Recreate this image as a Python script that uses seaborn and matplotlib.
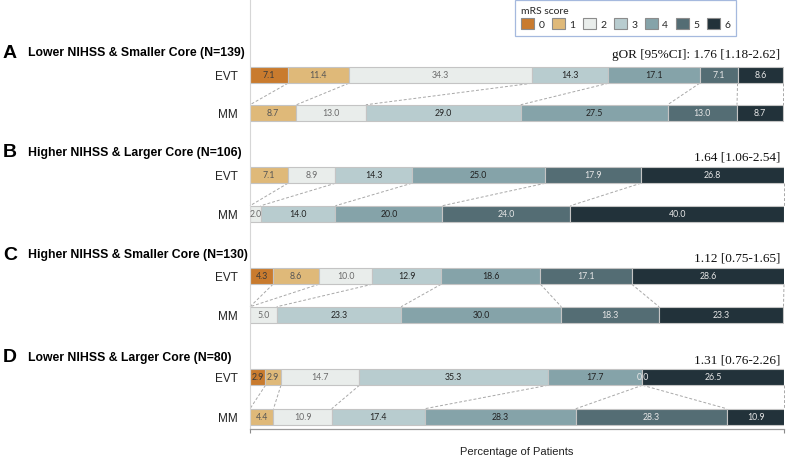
import matplotlib
matplotlib.use("Agg")
import matplotlib.pyplot as plt
import seaborn as sns
from matplotlib.patches import Patch
from matplotlib.transforms import blended_transform_factory

# ---------------- data ----------------
scores = ["0", "1", "2", "3", "4", "5", "6"]
groups = ["EVT", "MM"]
panel_letters = ["A", "B", "C", "D"]
panel_titles = [
    "Lower NIHSS & Smaller Core (N=139)",
    "Higher NIHSS & Larger Core (N=106)",
    "Higher NIHSS & Smaller Core (N=130)",
    "Lower NIHSS & Larger Core (N=80)",
]
gor_labels = [
    "gOR [95%CI]: 1.76 [1.18-2.62]",
    "1.64 [1.06-2.54]",
    "1.12 [0.75-1.65]",
    "1.31 [0.76-2.26]",
]

# None = category absent (no segment / no label)
evt_A = [7.1, 11.4, 34.3, 14.3, 17.1, 7.1, 8.6]
mm_A = [None, 8.7, 13.0, 29.0, 27.5, 13.0, 8.7]
evt_B = [None, 7.1, 8.9, 14.3, 25.0, 17.9, 26.8]
mm_B = [None, None, 2.0, 14.0, 20.0, 24.0, 40.0]
evt_C = [4.3, 8.6, 10.0, 12.9, 18.6, 17.1, 28.6]
mm_C = [None, None, 5.0, 23.3, 30.0, 18.3, 23.3]
evt_D = [2.9, 2.9, 14.7, 35.3, 17.7, 0.0, 26.5]
mm_D = [None, 4.4, 10.9, 17.4, 28.3, 28.3, 10.9]

panels = [(evt_A, mm_A), (evt_B, mm_B), (evt_C, mm_C), (evt_D, mm_D)]

# ---------------- style ----------------
colors = ["#C97B2E", "#DFB979", "#E9EDEB", "#B8CCCF", "#85A3A9", "#546D74", "#22323A"]
label_colors = ["#3A3A3A", "#555555", "#6A6A6A", "#222222", "#222222", "#E8E8E8", "#E8E8E8"]

W, H = 787, 460
sns.set_theme(style="white")
plt.rcParams["font.family"] = ["Liberation Sans", "DejaVu Sans"]

fig = plt.figure(figsize=(W / 100, H / 100), dpi=100)
ax_left, ax_right, ax_bottom_px = 250, 784, 430
ax = fig.add_axes([ax_left / W, (H - ax_bottom_px) / H, (ax_right - ax_left) / W, ax_bottom_px / H])
ax.set_xlim(0, 100)
ax.set_ylim(ax_bottom_px, 0)  # data y == pixel y from the top

row_centers = [(76, 114), (176, 215), (277, 316), (378, 418)]
title_y = [53, 153, 255, 358]
gor_y = [55, 158, 259, 361]
bh = 16.5

ytick_pos, ytick_lab = [], []
for p, (vals_pair, (yc_evt, yc_mm)) in enumerate(zip(panels, row_centers)):
    cums = []
    for vals, yc, g in zip(vals_pair, (yc_evt, yc_mm), groups):
        left = 0.0
        cum = []
        for k, v in enumerate(vals):
            if v is not None:
                if v > 0:
                    ax.barh(yc, v, left=left, height=bh, color=colors[k],
                            edgecolor="#C4C4C4", linewidth=0.8)
                ax.text(left + v / 2, yc, f"{v:.1f}", ha="center", va="center",
                        fontsize=6.3, color=label_colors[k], family=["Lato", "DejaVu Sans"])
                left += v
            cum.append(left)
        cums.append(cum)
        ytick_pos.append(yc)
        ytick_lab.append(g)
    # dashed connectors between cumulative boundaries
    for k in range(len(scores)):
        xe, xm = min(cums[0][k], 100), min(cums[1][k], 100)
        ax.plot([xe, xm], [yc_evt + bh / 2, yc_mm - bh / 2], ls=(0, (3, 2)),
                color="#A8A8A8", lw=0.7, clip_on=False, zorder=0.5)

    tr = blended_transform_factory(fig.transFigure, ax.transData)
    ax.text(3 / W, title_y[p], panel_letters[p], transform=tr, ha="left", va="center",
            fontsize=14, fontweight="bold", color="black")
    ax.text(28 / W, title_y[p], panel_titles[p], transform=tr, ha="left", va="center",
            fontsize=8.8, fontweight="bold", color="black")
    ax.text(99.3, gor_y[p], gor_labels[p], ha="right", va="center", fontsize=9.5,
            family=["Liberation Serif", "DejaVu Serif"], color="#111111", clip_on=False)

ax.set_yticks(ytick_pos)
ax.set_yticklabels(ytick_lab, fontsize=8.5, color="#222222")
ax.tick_params(axis="y", length=0, pad=9)
ax.set_xticks([0, 100])
ax.set_xticklabels(["", ""])
ax.tick_params(axis="x", length=3, color="#8A8A8A", width=0.8, direction="out", bottom=True)

for s in ["top", "right"]:
    ax.spines[s].set_visible(False)
ax.spines["left"].set_color("#D6D6D6")
ax.spines["left"].set_linewidth(0.8)
ax.spines["bottom"].set_color("#9A9A9A")
ax.spines["bottom"].set_linewidth(0.9)

fig.text(517 / W, 1 - 452 / H, "Percentage of Patients", ha="center", va="center",
         fontsize=8, color="#222222")

handles = [Patch(facecolor=c, edgecolor="#8C8C8C", linewidth=0.8) for c in colors]
leg = fig.legend(handles, scores, title="mRS score", ncol=7, loc="upper left",
                 bbox_to_anchor=(514 / W, 1.0), borderaxespad=0.1, frameon=True, fancybox=False,
                 edgecolor="#8FA8D6", alignment="left",
                 handlelength=1.2, handleheight=1.2, columnspacing=0.75, handletextpad=0.45,
                 borderpad=0.6, labelspacing=0.3,
                 prop={"family": ["Lato", "DejaVu Sans"], "size": 7.5})
leg.get_title().set_family(["Lato", "DejaVu Sans"])
leg.get_title().set_fontsize(7.5)
leg.get_frame().set_linewidth(0.9)

fig.savefig("out.png", dpi=100)
